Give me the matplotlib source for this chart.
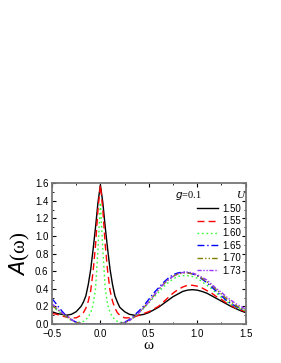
import matplotlib
matplotlib.use("Agg")
import matplotlib.pyplot as plt
from matplotlib.ticker import MultipleLocator

# omega grid (finer around the central peak)
omega = [-0.5, -0.45, -0.4, -0.35, -0.3, -0.25, -0.2, -0.175, -0.15, -0.125, -0.1, -0.075,
         -0.05, -0.025, 0.0, 0.025, 0.05, 0.075, 0.1, 0.125, 0.15, 0.175, 0.2, 0.25, 0.3,
         0.35, 0.4, 0.45, 0.5, 0.55, 0.6, 0.65, 0.7, 0.75, 0.8, 0.85, 0.9, 0.95, 1.0, 1.05,
         1.1, 1.15, 1.2, 1.25, 1.3, 1.35, 1.4, 1.45, 1.5]

a_150 = [0.14, 0.12, 0.11, 0.10, 0.11, 0.14, 0.20, 0.25, 0.32, 0.45, 0.62, 0.85,
         1.10, 1.38, 1.58, 1.38, 1.10, 0.85, 0.62, 0.45, 0.32, 0.25, 0.19, 0.14, 0.11,
         0.10, 0.10, 0.11, 0.13, 0.16, 0.19, 0.23, 0.27, 0.31, 0.34, 0.37, 0.385, 0.39, 0.385, 0.37,
         0.35, 0.32, 0.29, 0.26, 0.23, 0.20, 0.175, 0.15, 0.13]
a_155 = [0.12, 0.11, 0.09, 0.08, 0.07, 0.07, 0.10, 0.13, 0.18, 0.26, 0.38, 0.60,
         0.90, 1.30, 1.58, 1.30, 0.90, 0.60, 0.38, 0.26, 0.18, 0.13, 0.10, 0.07, 0.07,
         0.08, 0.10, 0.12, 0.14, 0.17, 0.20, 0.25, 0.30, 0.35, 0.39, 0.42, 0.44, 0.44, 0.43, 0.41,
         0.38, 0.35, 0.31, 0.28, 0.24, 0.21, 0.18, 0.16, 0.14]
a_160 = [0.20, 0.16, 0.12, 0.08, 0.04, 0.02, 0.02, 0.03, 0.05, 0.08, 0.13, 0.22,
         0.40, 0.85, 1.38, 0.85, 0.40, 0.22, 0.13, 0.08, 0.05, 0.03, 0.02, 0.02, 0.04,
         0.08, 0.13, 0.18, 0.24, 0.30, 0.36, 0.42, 0.47, 0.51, 0.54, 0.55, 0.55, 0.54, 0.52, 0.48,
         0.44, 0.40, 0.35, 0.30, 0.26, 0.22, 0.19, 0.17, 0.15]
a_165 = [0.29, 0.22, 0.15, 0.09, 0.05, 0.02, 0.005, 0.0, 0.0, 0.0, 0.0, 0.0,
         0.0, 0.0, 0.0, 0.0, 0.0, 0.0, 0.0, 0.0, 0.0, 0.0, 0.005, 0.02, 0.05,
         0.10, 0.15, 0.21, 0.28, 0.35, 0.41, 0.47, 0.52, 0.56, 0.58, 0.59, 0.585, 0.57, 0.55, 0.51,
         0.47, 0.42, 0.37, 0.32, 0.27, 0.23, 0.20, 0.17, 0.15]
a_170 = [0.21, 0.17, 0.12, 0.08, 0.05, 0.02, 0.005, 0.0, 0.0, 0.0, 0.0, 0.0,
         0.0, 0.0, 0.0, 0.0, 0.0, 0.0, 0.0, 0.0, 0.0, 0.0, 0.005, 0.015, 0.04,
         0.08, 0.13, 0.19, 0.25, 0.32, 0.39, 0.45, 0.50, 0.54, 0.57, 0.58, 0.58, 0.57, 0.55, 0.52,
         0.48, 0.44, 0.39, 0.34, 0.29, 0.25, 0.21, 0.18, 0.16]
a_173 = [0.23, 0.18, 0.13, 0.09, 0.05, 0.02, 0.005, 0.0, 0.0, 0.0, 0.0, 0.0,
         0.0, 0.0, 0.0, 0.0, 0.0, 0.0, 0.0, 0.0, 0.0, 0.0, 0.005, 0.015, 0.04,
         0.08, 0.13, 0.19, 0.25, 0.32, 0.39, 0.45, 0.50, 0.54, 0.57, 0.585, 0.59, 0.58, 0.56, 0.53,
         0.50, 0.45, 0.40, 0.36, 0.31, 0.27, 0.23, 0.20, 0.17]

labels = ["1.50", "1.55", "1.60", "1.65", "1.70", "1.73"]
series = [a_150, a_155, a_160, a_165, a_170, a_173]
colors = ["black", "#ff0000", "#33ff33", "#0000ff", "#808000", "#9933ff"]
styles = ["-", (0, (5, 3)), (0, (1.2, 2)), (0, (5, 2, 1, 2)), (0, (4, 1.5, 1, 1.5, 1, 1.5)),
          (0, (3, 1.2, 1, 1.2, 1, 1.2))]

plt.rcParams["font.family"] = "Liberation Sans"
fig = plt.figure(figsize=(2.81, 3.63), dpi=100)
ax = fig.add_axes([0.185, 0.1074, 0.689, 0.388])

for y, lab, c, ls in zip(series, labels, colors, styles):
    ax.plot(omega, y, color=c, linestyle=ls, linewidth=1.0, label=lab)

ax.set_xlim(-0.5, 1.5)
ax.set_ylim(0, 1.6)
ax.xaxis.set_major_locator(MultipleLocator(0.5))
ax.xaxis.set_minor_locator(MultipleLocator(0.25))
ax.yaxis.set_major_locator(MultipleLocator(0.2))
ax.yaxis.set_minor_locator(MultipleLocator(0.1))
ax.tick_params(which="both", direction="in", top=True, right=True, labelsize=7)
ax.tick_params(axis="x", pad=3.5)
ax.tick_params(axis="y", pad=2.5)
ax.tick_params(which="major", length=3, width=0.8)
ax.tick_params(which="minor", length=1.5, width=0.6)
for sp in ax.spines.values():
    sp.set_color("#777777")
    sp.set_linewidth(1.3)

ax.set_xlabel("ω", family="Liberation Serif", fontsize=11, labelpad=0)
ax.set_ylabel(r"$\mathit{A}$(ω)", family="Liberation Serif", fontsize=15, labelpad=2)

leg = ax.legend(loc="upper right", bbox_to_anchor=(1.0, 0.89), frameon=False,
                fontsize=7, handlelength=2.2, handletextpad=0.4, labelspacing=0.25,
                borderaxespad=0.1)
ax.text(0.707, 0.91, r"$g$=0.1", transform=ax.transAxes, family="Liberation Serif",
        fontsize=7.5, ha="center", va="center")
ax.text(0.975, 0.91, "U", transform=ax.transAxes, family="Liberation Serif", style="italic",
        fontsize=8, ha="center", va="center")

fig.savefig("out.png", dpi=100)
